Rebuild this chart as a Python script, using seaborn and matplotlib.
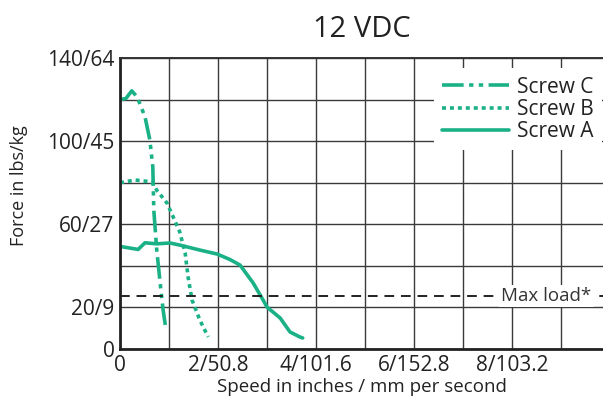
import numpy as np
import matplotlib
matplotlib.use("Agg")
import matplotlib.pyplot as plt
import seaborn as sns

# data (speed in/s, force lbs)
screw_a_x = [0.04, 0.37, 0.51, 0.75, 1.02, 1.22, 1.63, 1.98, 2.24, 2.45, 2.72, 2.92, 3.0, 3.27, 3.47, 3.67, 3.73]
screw_a_y = [49.2, 47.9, 51.1, 50.6, 51.0, 50.0, 47.6, 45.7, 43.1, 40.4, 31.7, 23.6, 20.2, 14.9, 8.2, 5.8, 5.3]
screw_b_x = [0.0, 0.31, 0.65, 0.75, 0.96, 1.22, 1.33, 1.39, 1.47, 1.63, 1.8]
screw_b_y = [80.0, 81.3, 80.4, 76.4, 70.2, 56.3, 46.2, 34.6, 23.6, 13.9, 5.8]
screw_c_x = [0.0, 0.12, 0.24, 0.35, 0.51, 0.61, 0.67, 0.69, 0.75, 0.82, 0.88, 0.94]
screw_c_y = [120.0, 120.5, 124.2, 121.3, 111.7, 100.5, 87.5, 66.8, 47.6, 31.7, 18.8, 9.1]
max_load = 25.5

x_ticks = [0, 2, 4, 6, 8]
x_labels = ["0", "2/50.8", "4/101.6", "6/152.8", "8/103.2"]
y_ticks = [0, 20, 60, 100, 140]
y_labels = ["0", "20/9", "60/27", "100/45", "140/64"]

sns.set_style("white")
plt.rcParams['font.family'] = ['Open Sans', 'DejaVu Sans']
green = '#1ab187'
ink = '#222222'

fig = plt.figure(figsize=(6.03, 4.0), dpi=100)
ax = fig.add_axes([0.199, 0.1275, 0.801, 0.7275])

sns.lineplot(x=screw_c_x, y=screw_c_y, ax=ax, color=green, lw=2.6, label="Screw C",
             sort=False, estimator=None)
sns.lineplot(x=screw_b_x, y=screw_b_y, ax=ax, color=green, lw=2.6, label="Screw B",
             sort=False, estimator=None)
sns.lineplot(x=screw_a_x, y=screw_a_y, ax=ax, color=green, lw=2.6, label="Screw A",
             sort=False, estimator=None)
lines = ax.get_lines()
lines[0].set_dashes([6, 1.5, 1.2, 1.5, 1.2, 1.5])
lines[1].set_dashes([1.1, 1.1])

ax.axhline(max_load, color=ink, lw=1.4, ls=(0, (5, 3.5)), zorder=3)
ax.text(9.63, max_load, "Max load*", fontsize=13.5, color='#333333', ha='right', va='center',
        bbox=dict(facecolor='white', edgecolor='none', pad=1.5), zorder=4)

ax.set_xlim(0, 9.86)
ax.set_ylim(0, 140)
ax.set_xticks(np.arange(0, 10, 1), minor=True)
ax.set_yticks(np.arange(0, 141, 20), minor=True)
ax.set_xticks(x_ticks)
ax.set_xticklabels(x_labels, fontsize=15, color=ink)
ax.set_yticks(y_ticks)
ax.set_yticklabels(y_labels, fontsize=15, color=ink)
ax.tick_params(which='both', length=0, pad=4)
ax.grid(which='both', color='#3a3a3a', lw=1.0)
ax.set_axisbelow(True)

for s in ['left', 'bottom']:
    ax.spines[s].set_color(ink)
    ax.spines[s].set_linewidth(2.0)
ax.spines['top'].set_color('#333333')
ax.spines['top'].set_linewidth(1.4)
ax.spines['right'].set_visible(False)

ax.set_xlabel("Speed in inches / mm per second", fontsize=13.5, color=ink, labelpad=2)
ax.set_ylabel("Force in lbs/kg", fontsize=13, color=ink)
ax.yaxis.set_label_coords(-0.19, 0.56)
ax.set_title("12 VDC", fontsize=21, color=ink, pad=15)

leg = ax.legend(loc='upper right', bbox_to_anchor=(1.02, 1.0), fontsize=15, frameon=True,
                facecolor='white', edgecolor='none', framealpha=1, fancybox=False,
                handlelength=3.2, handletextpad=0.4, labelspacing=0.05, borderpad=0.4)
for t in leg.get_texts():
    t.set_color(ink)
leg.set_zorder(5)

fig.savefig("out.png", dpi=100)
